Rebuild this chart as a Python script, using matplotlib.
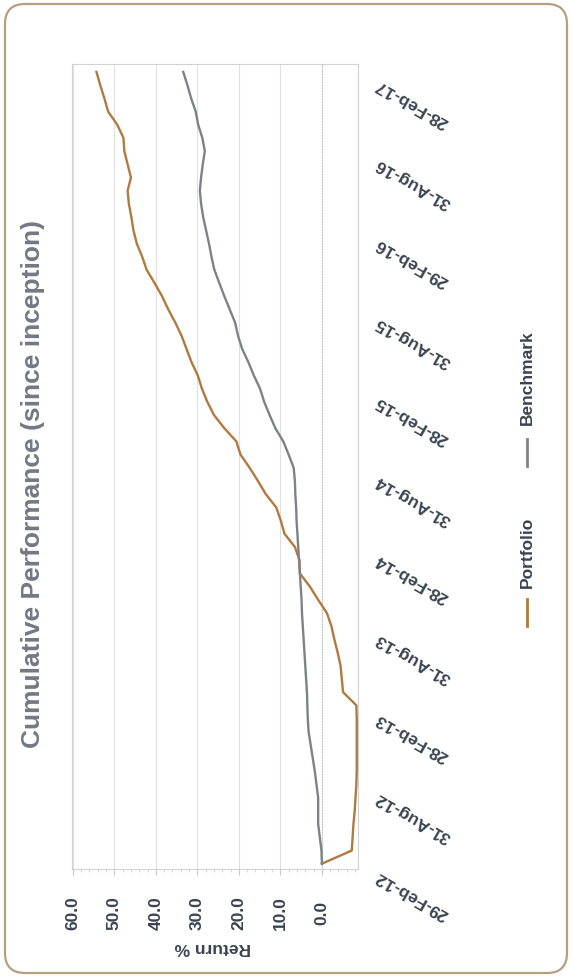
import matplotlib.pyplot as plt
import numpy as np
import pandas as pd
from matplotlib.patches import FancyBboxPatch
from matplotlib.lines import Line2D
from matplotlib.ticker import MultipleLocator
from matplotlib.transforms import blended_transform_factory

plt.rcParams['font.family'] = ['Liberation Sans', 'DejaVu Sans']

# month-end dates since inception
months = pd.date_range('2012-02-29', periods=61, freq='ME')

# cumulative return %, one value per month end
portfolio = [0.0, -7.2, -7.4, -7.6, -7.9, -8.1, -8.3, -8.4, -8.4, -8.4,
             -8.4, -8.4, -8.3, -5.1, -4.8, -4.5, -3.8, -3.0, -2.3, -1.2,
             0.9, 2.9, 5.3, 5.4, 6.5, 9.0, 9.9, 11.0, 13.5, 15.4,
             17.4, 19.6, 20.6, 23.5, 26.0, 27.6, 28.9, 29.9, 31.4, 32.6,
             33.8, 35.3, 37.0, 38.5, 40.3, 42.2, 43.3, 44.6, 45.4, 45.9,
             46.5, 46.8, 46.0, 46.8, 47.6, 47.8, 49.3, 51.5, 52.4, 53.4,
             54.3]
benchmark = [0.0, 0.1, 0.5, 0.9, 0.9, 0.9, 1.3, 1.7, 2.2, 2.7,
             3.2, 3.4, 3.5, 3.6, 3.8, 4.0, 4.2, 4.4, 4.6, 4.8,
             4.9, 5.1, 5.3, 5.5, 5.7, 5.9, 6.1, 6.2, 6.4, 6.5,
             6.8, 8.0, 9.3, 11.2, 12.6, 13.9, 14.9, 16.4, 17.7, 19.2,
             20.2, 20.9, 22.2, 23.5, 24.7, 25.9, 26.6, 27.2, 27.9, 28.6,
             29.1, 29.4, 29.1, 28.7, 28.2, 28.8, 29.8, 30.4, 31.5, 32.4,
             33.4]

return_ticks = [60, 50, 40, 30, 20, 10, 0]
return_labels = ['60.0', '50.0', '40.0', '30.0', '20.0', '10.0', '0.0']
date_labels = [d.strftime('%d-%b-%y') for d in months[::6]]

c_port = '#b27a3e'
c_bench = '#7e8288'
c_text = '#3a4350'

fig = plt.figure(figsize=(5.72, 9.78), dpi=100)

# rounded frame round the whole chart
frame = FancyBboxPatch((5 / 572, 4 / 978), 562 / 572, 969 / 978,
                       boxstyle='round,pad=0,rounding_size=0.035',
                       transform=fig.transFigure, fill=False,
                       edgecolor='#b59f80', linewidth=1.6,
                       mutation_aspect=572 / 978)
fig.patches.append(frame)

ax = fig.add_axes([72 / 572, 108 / 978, 286 / 572, 805 / 978])
idx = np.arange(len(months))
ax.plot(portfolio, idx, color=c_port, lw=1.7, zorder=3)
ax.plot(benchmark, idx, color=c_bench, lw=1.7, zorder=3)

ax.set_xlim(60.2, -8.7)
ax.set_ylim(-0.4, 60.6)

# return axis along the bottom, labels turned on their side
ax.set_xticks(return_ticks)
ax.set_xticklabels(return_labels)
ax.xaxis.set_minor_locator(MultipleLocator(2))
ax.tick_params(axis='x', which='major', length=4, width=0.8, color='#c8c8c8',
               pad=27, labelrotation=90, labelsize=12.5, labelcolor=c_text)
ax.tick_params(axis='x', which='minor', length=2, width=0.6, color='#cfcfcf')
for lbl in ax.get_xticklabels():
    lbl.set_fontweight('bold')
    lbl.set_va('center')

ax.set_yticks([])
ax.grid(axis='x', which='major', color='#e0e0e0', lw=0.8)
ax.axvline(0, color='#b8b8b8', lw=0.8, ls=(0, (1, 1.5)), zorder=2)
for s in ax.spines.values():
    s.set_color('#d2d2d2')
    s.set_linewidth(0.8)

# date labels down the right side
trans = blended_transform_factory(ax.transAxes, ax.transData)
for i, lab in zip(idx[::6], date_labels):
    ax.text(1.066, i - 0.8, lab, transform=trans, rotation=150,
            rotation_mode='anchor', ha='right', va='center',
            fontsize=12.5, fontweight='bold', color=c_text, clip_on=False)

fig.text(213 / 572, 1 - 948 / 978, 'Return %', rotation=180, ha='center',
         va='center', fontsize=12.5, fontweight='bold', color=c_text)

fig.text(33 / 572, 1 - 484 / 978, 'Cumulative Performance (since inception)',
         rotation=90, ha='center', va='center', fontsize=19,
         fontweight='bold', color='#737883')

# legend entries
fig.add_artist(Line2D([527 / 572] * 2, [1 - 627 / 978, 1 - 600 / 978],
                      transform=fig.transFigure, color=c_port, lw=2))
fig.add_artist(Line2D([527 / 572] * 2, [1 - 467 / 978, 1 - 440 / 978],
                      transform=fig.transFigure, color=c_bench, lw=2))
fig.text(527 / 572, 1 - 552 / 978, 'Portfolio', rotation=90, ha='center',
         va='center', fontsize=12.5, fontweight='bold', color=c_text)
fig.text(527 / 572, 1 - 378 / 978, 'Benchmark', rotation=90, ha='center',
         va='center', fontsize=12.5, fontweight='bold', color=c_text)

fig.savefig('out.png', dpi=100)
